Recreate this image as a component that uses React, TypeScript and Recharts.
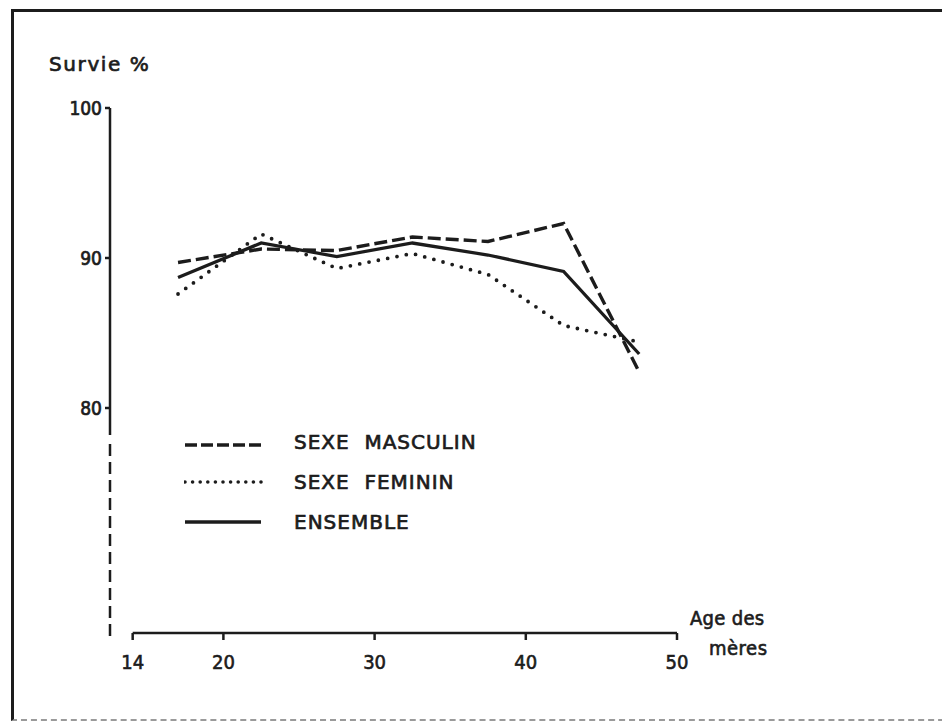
import React from 'react';
import { LineChart, Line, XAxis, YAxis, ReferenceLine, Legend } from 'recharts';

const ages = [17, 22.5, 27.5, 32.5, 37.5, 42.5, 47.5];
const masculin = [89.7, 90.6, 90.5, 91.4, 91.1, 92.3, 82.4];
const feminin = [87.6, 91.6, 89.3, 90.3, 88.9, 85.5, 84.4];
const ensemble = [88.7, 91.0, 90.1, 91.0, 90.2, 89.1, 83.6];

const xTicks = [14, 20, 30, 40, 50];
const yTicks = [80, 90, 100];

const seriesLabels = ['SEXE  MASCULIN', 'SEXE  FEMININ', 'ENSEMBLE'];
const yTitle = 'Survie %';
const xTitle1 = 'Age des';
const xTitle2 = 'mères';

const rows = ages.map((a, i) => ({
  age: a,
  masculin: masculin[i],
  feminin: feminin[i],
  ensemble: ensemble[i],
}));

const INK = '#1c1c1c';
const NUM_FONT = '"DejaVu Sans Condensed", "Liberation Sans Narrow", "DejaVu Sans", sans-serif';
const TXT_FONT = '"DejaVu Sans", sans-serif';

const legendStyles = [
  { dash: '12 4', width: 3.4, cap: 'butt' as const },
  { dash: '0 7.6', width: 3.6, cap: 'round' as const },
  { dash: undefined, width: 3.6, cap: 'butt' as const },
];

const LegendBox = () => (
  <div style={{ display: 'flex', flexDirection: 'column' }}>
    {seriesLabels.map((label, i) => (
      <div key={label} style={{ display: 'flex', alignItems: 'center', height: 40 }}>
        <svg width={80} height={12} style={{ display: 'block' }}>
          <line
            x1={1}
            x2={77}
            y1={i === 0 ? 9 : 6}
            y2={i === 0 ? 9 : 6}
            stroke={INK}
            strokeWidth={legendStyles[i].width}
            strokeDasharray={legendStyles[i].dash}
            strokeLinecap={legendStyles[i].cap}
          />
        </svg>
        <span
          style={{
            marginLeft: 30,
            fontFamily: TXT_FONT,
            fontSize: 20,
            letterSpacing: 1,
            whiteSpace: 'pre',
            color: INK,
            lineHeight: '20px',
            WebkitTextStroke: `0.7px ${INK}`,
          }}
        >
          {label}
        </span>
      </div>
    ))}
  </div>
);

export default function App() {
  return (
    <div style={{ position: 'absolute', left: 0, top: 0, width: 942, height: 721, background: '#fff', overflow: 'hidden' }}>
      <div
        style={{
          position: 'absolute',
          left: 11,
          top: 9,
          width: 960,
          height: 707,
          borderLeft: `3px solid ${INK}`,
          borderTop: `3px solid ${INK}`,
          borderBottom: '2px dashed #9a9a9a',
        }}
      />
      <LineChart
        width={942}
        height={721}
        data={rows}
        margin={{ top: 108, right: 265, bottom: 48, left: 50 }}
        style={{ position: 'absolute', left: 0, top: 0 }}
      >
        <XAxis
          dataKey="age"
          type="number"
          domain={[12.5, 50]}
          ticks={xTicks}
          interval={0}
          axisLine={false}
          tickLine={{ stroke: INK, strokeWidth: 2.5 }}
          tickSize={7}
          tickMargin={15}
          height={40}
          tick={{ fill: INK, fontSize: 20, fontFamily: NUM_FONT, stroke: INK, strokeWidth: 0.6 }}
        />
        <YAxis
          type="number"
          domain={[65, 100]}
          ticks={yTicks}
          interval={0}
          axisLine={false}
          tickLine={{ stroke: INK, strokeWidth: 2.5 }}
          tickSize={5}
          tickMargin={3}
          width={60}
          tick={{ fill: INK, fontSize: 19, fontFamily: NUM_FONT, stroke: INK, strokeWidth: 0.7 }}
        />
        <ReferenceLine
          segment={[{ x: 12.5, y: 100 }, { x: 12.5, y: 78.2 }]}
          stroke={INK}
          strokeWidth={2.5}
          ifOverflow="visible"
        />
        <ReferenceLine
          segment={[{ x: 12.5, y: 77.6 }, { x: 12.5, y: 64.8 }]}
          stroke={INK}
          strokeWidth={2.5}
          strokeDasharray="12 6"
          ifOverflow="visible"
        />
        <ReferenceLine
          segment={[{ x: 14, y: 65 }, { x: 50, y: 65 }]}
          stroke={INK}
          strokeWidth={2.5}
          ifOverflow="visible"
        />
        <Line
          type="linear"
          dataKey="masculin"
          stroke={INK}
          strokeWidth={3.4}
          strokeDasharray="13 5"
          dot={false}
          activeDot={false}
          isAnimationActive={false}
        />
        <Line
          type="linear"
          dataKey="feminin"
          stroke={INK}
          strokeWidth={3.8}
          strokeDasharray="0 9.5"
          strokeLinecap="round"
          dot={false}
          activeDot={false}
          isAnimationActive={false}
        />
        <Line
          type="linear"
          dataKey="ensemble"
          stroke={INK}
          strokeWidth={3.3}
          dot={false}
          activeDot={false}
          isAnimationActive={false}
        />
        <Legend
          layout="horizontal"
          align="center"
          verticalAlign="middle"
          content={() => <LegendBox />}
          wrapperStyle={{ position: 'absolute', left: 184, top: 422, width: 320, height: 120 }}
        />
      </LineChart>
      <svg width={942} height={721} style={{ position: 'absolute', left: 0, top: 0, pointerEvents: 'none' }}>
        <text x={49} y={71} fontFamily={TXT_FONT} fontSize={20} letterSpacing={1.6} fill={INK} stroke={INK} strokeWidth={0.7}>
          {yTitle}
        </text>
        <text x={690} y={625} fontFamily={NUM_FONT} fontSize={20} letterSpacing={0.3} fill={INK} stroke={INK} strokeWidth={0.6}>
          {xTitle1}
        </text>
        <text x={709} y={655} fontFamily={NUM_FONT} fontSize={20} letterSpacing={0.5} fill={INK} stroke={INK} strokeWidth={0.6}>
          {xTitle2}
        </text>
      </svg>
    </div>
  );
}
